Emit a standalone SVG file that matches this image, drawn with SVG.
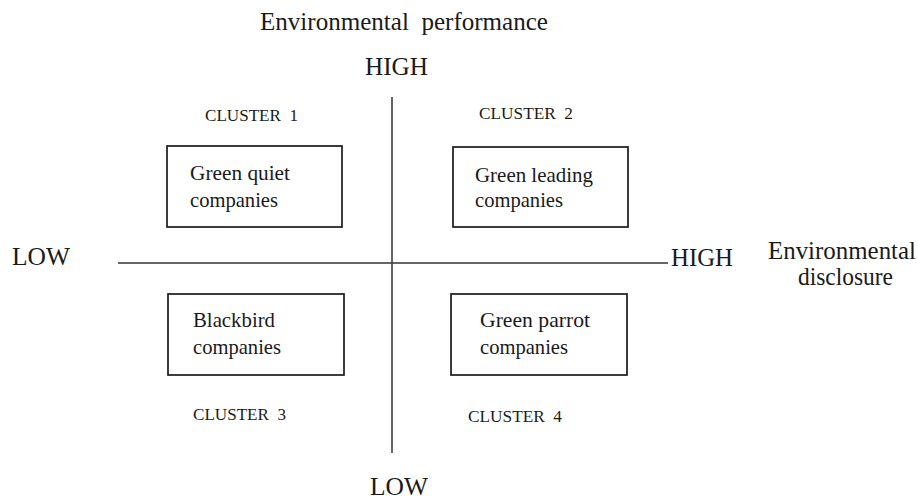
<svg xmlns="http://www.w3.org/2000/svg" width="918" height="500" viewBox="0 0 918 500">
<style>
text{font-family:"Liberation Serif","Times New Roman",serif;fill:#1a1a1a}
.lab{font-size:25px}
.box{font-size:21.5px}
.cl{font-size:17px}
.node rect{fill:#fff;stroke:#1a1a1a;stroke-width:1.7}
.axis{stroke:#333;stroke-width:1.5;fill:none}
</style>
<rect width="918" height="500" fill="#fff"/>
<g id="connectors">
<line class="axis" x1="392" y1="97" x2="392" y2="453"/>
<line class="axis" x1="118" y1="263" x2="668" y2="263"/>
</g>
<g id="labels">
<text class="lab" x="260" y="30" textLength="288" lengthAdjust="spacingAndGlyphs" xml:space="preserve">Environmental  performance</text>
<text class="lab" x="365" y="75" textLength="63" lengthAdjust="spacingAndGlyphs">HIGH</text>
<text class="lab" x="12" y="265" textLength="58" lengthAdjust="spacingAndGlyphs">LOW</text>
<text class="lab" x="671" y="266" textLength="62" lengthAdjust="spacingAndGlyphs">HIGH</text>
<text class="lab" x="768" y="259" textLength="148" lengthAdjust="spacingAndGlyphs">Environmental</text>
<text class="lab" x="798" y="285" textLength="95" lengthAdjust="spacingAndGlyphs">disclosure</text>
<text class="lab" x="370" y="495" textLength="58" lengthAdjust="spacingAndGlyphs">LOW</text>
</g>
<g id="cluster1" class="node">
<text class="cl" x="205" y="121" textLength="93" lengthAdjust="spacingAndGlyphs" xml:space="preserve">CLUSTER  1</text>
<rect x="167" y="146" width="175" height="81"/>
<text class="box" x="190" y="180" textLength="100" lengthAdjust="spacingAndGlyphs">Green quiet</text>
<text class="box" x="190" y="207" textLength="88" lengthAdjust="spacingAndGlyphs">companies</text>
</g>
<g id="cluster2" class="node">
<text class="cl" x="479" y="119" textLength="94" lengthAdjust="spacingAndGlyphs" xml:space="preserve">CLUSTER  2</text>
<rect x="453" y="147" width="175" height="80"/>
<text class="box" x="475" y="182" textLength="118" lengthAdjust="spacingAndGlyphs">Green leading</text>
<text class="box" x="475" y="207" textLength="88" lengthAdjust="spacingAndGlyphs">companies</text>
</g>
<g id="cluster3" class="node">
<rect x="168" y="294" width="176" height="81"/>
<text class="box" x="193" y="327" textLength="82" lengthAdjust="spacingAndGlyphs">Blackbird</text>
<text class="box" x="193" y="354" textLength="88" lengthAdjust="spacingAndGlyphs">companies</text>
<text class="cl" x="193" y="420" textLength="93" lengthAdjust="spacingAndGlyphs" xml:space="preserve">CLUSTER  3</text>
</g>
<g id="cluster4" class="node">
<rect x="451" y="294" width="176" height="81"/>
<text class="box" x="480" y="327" textLength="110" lengthAdjust="spacingAndGlyphs">Green parrot</text>
<text class="box" x="480" y="354" textLength="88" lengthAdjust="spacingAndGlyphs">companies</text>
<text class="cl" x="468" y="422" textLength="94" lengthAdjust="spacingAndGlyphs" xml:space="preserve">CLUSTER  4</text>
</g>
</svg>
